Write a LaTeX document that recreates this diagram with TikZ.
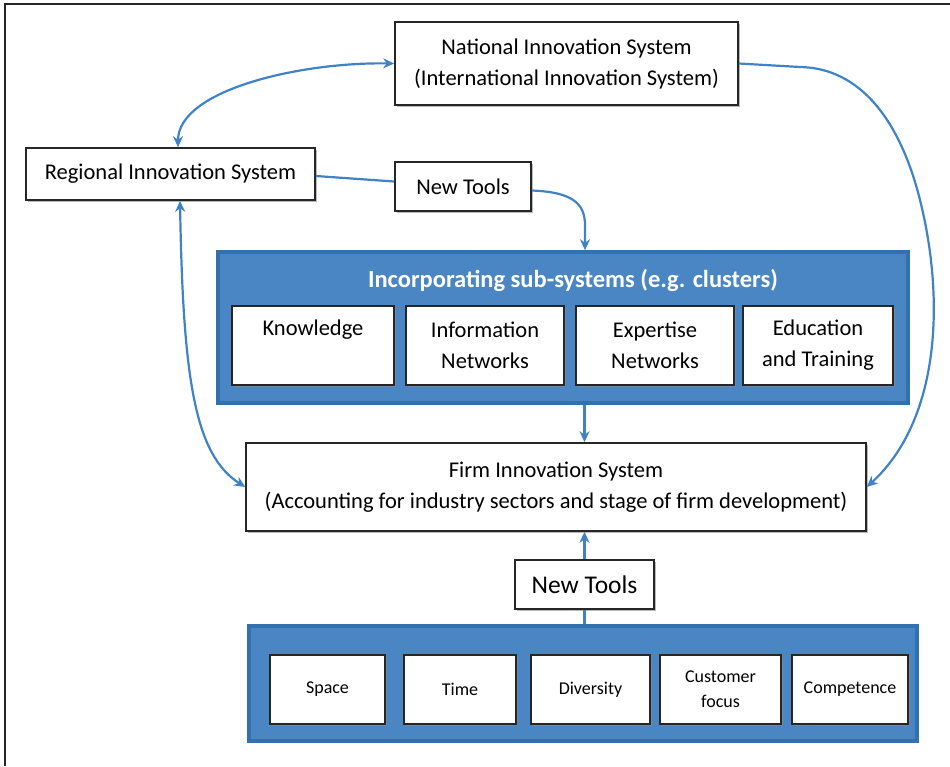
\documentclass[tikz,border=0pt]{standalone}
\usepackage{fontspec}
\setmainfont{Carlito}
\usetikzlibrary{shadows,arrows.meta}
\definecolor{arr}{HTML}{3F82C8}
\definecolor{bfill}{HTML}{4A86C4}
\definecolor{bdraw}{HTML}{3370AE}
\begin{document}
\begin{tikzpicture}[x=1pt,y=-1pt,
  box/.style={draw=black!85, line width=1.6pt, fill=white, align=center, inner sep=0pt,
    drop shadow={shadow xshift=1.5pt, shadow yshift=-1.5pt, fill=black!45, opacity=0.6}},
  mainfont/.style={font=\fontsize{22.5}{31}\selectfont},
  smallfont/.style={font=\fontsize{18}{25}\selectfont},
  bluebox/.style={draw=bdraw, line width=3.5pt, fill=bfill, inner sep=0pt,
    drop shadow={shadow xshift=1.5pt, shadow yshift=-1.5pt, fill=black!30, opacity=0.5}},
  conn/.style={draw=arr, line width=2.2pt},
  arrowtip/.style={-{Stealth[length=11pt,width=10pt]}},
  dblarrow/.style={{Stealth[length=11pt,width=10pt]}-{Stealth[length=11pt,width=10pt]}}
]
\useasboundingbox (0,0) rectangle (950,766);
% frame (top and left edges)
\draw[line width=2.5pt, black!85] (5,766) -- (5,4) -- (950,4);

% main boxes
\node[box, mainfont, minimum width=343pt, minimum height=83pt] (nat) at (566.5,63.5)
  {National Innovation System\\(International Innovation System)};
\node[box, mainfont, minimum width=289pt, minimum height=52pt] (reg) at (170.5,174)
  {Regional Innovation System};
\node[box, mainfont, minimum width=136pt, minimum height=49pt] (nt1) at (463,186.5)
  {New Tools};

% sub-systems
\node[bluebox, minimum width=690pt, minimum height=151pt] (sub) at (563,327.5) {};
\node[font=\fontsize{24.5}{28}\selectfont\bfseries, text=white] (subtitle) at (573,280)
  {Incorporating sub-systems (e.g. clusters)};
\node[box, mainfont, minimum width=162pt, minimum height=79pt] (know) at (313,345.5)
  {Knowledge\\\phantom{Xg}};
\node[box, mainfont, minimum width=158pt, minimum height=79pt] (info) at (485,345.5)
  {Information\\Networks};
\node[box, mainfont, minimum width=158pt, minimum height=79pt] (expe) at (655,345.5)
  {Expertise\\Networks};
\node[box, mainfont, minimum width=150pt, minimum height=79pt] (educ) at (818,345.5)
  {Education\\and Training};

% firm
\node[box, mainfont, minimum width=620pt, minimum height=88pt] (firm) at (556,487)
  {Firm Innovation System\\(Accounting for industry sectors and stage of firm development)};

\node[box, font=\fontsize{25.5}{30}\selectfont, minimum width=139pt, minimum height=49pt] (nt2) at (584.5,584.5)
  {New Tools};

% bottom tools
\node[bluebox, minimum width=668pt, minimum height=115pt] (tools) at (583,683.5) {};
\node[box, smallfont, minimum width=115pt, minimum height=69pt] (space) at (327.5,689.5) {Space};
\node[box, smallfont, minimum width=112pt, minimum height=69pt] (time) at (460,689.5) {Time};
\node[box, smallfont, minimum width=119pt, minimum height=69pt] (div) at (590.5,689.5) {Diversity};
\node[box, smallfont, minimum width=121pt, minimum height=69pt] (cust) at (720.5,689.5) {Customer\\focus};
\node[box, smallfont, minimum width=116pt, minimum height=69pt] (comp) at (850,689.5) {Competence};

% connectors
\draw[conn, dblarrow] ([xshift=7.5pt]reg.north) .. controls (178,90) and (300,62) .. (nat.west);
\draw[conn, arrowtip] (nat.east) -- (800,67) .. controls (860,68) and (900,120) .. (920,200)
  .. controls (945,300) and (940,420) .. (firm.east);
\draw[conn, dblarrow] ([xshift=9.5pt]reg.south) .. controls (183,380) and (195,455) .. (firm.west);
\draw[conn] ([yshift=-2pt]reg.east) -- ([yshift=5pt]nt1.west);
\draw[conn, arrowtip] ([yshift=-4pt]nt1.east) .. controls (570,192) and (585,202) .. (585,225) -- ([xshift=22pt]sub.north);
\draw[conn, arrowtip] (nt2 |- sub.south) -- (nt2 |- firm.north);
\draw[conn, arrowtip] (nt2.north) -- (nt2 |- firm.south);
\draw[conn] (nt2.south) -- (nt2 |- tools.north);
\end{tikzpicture}
\end{document}
